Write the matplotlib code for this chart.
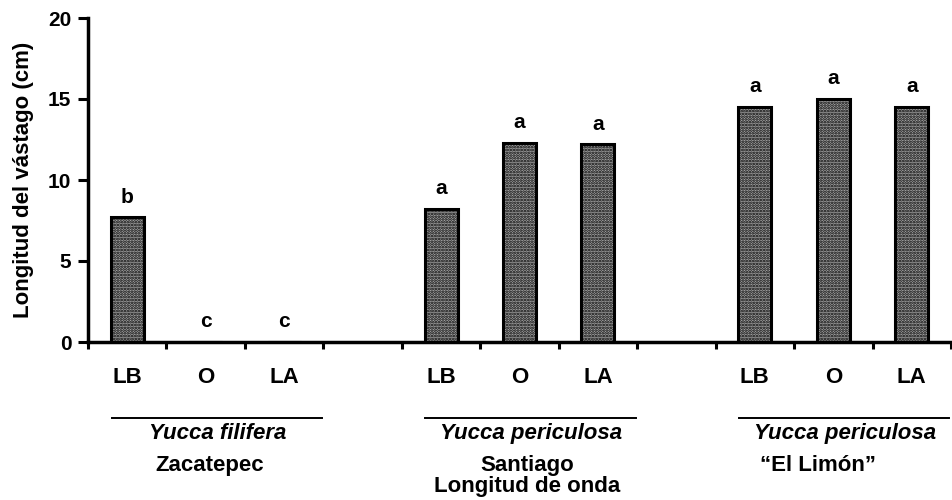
import numpy as np
import matplotlib
matplotlib.use("Agg")
import matplotlib.pyplot as plt
import matplotlib.transforms as mtransforms

# datos
treatments = ["LB", "O", "LA"]
zacatepec = [7.7, 0.0, 0.0]
santiago = [8.2, 12.3, 12.2]
el_limon = [14.5, 15.0, 14.5]
letters_zacatepec = ["b", "c", "c"]
letters_santiago = ["a", "a", "a"]
letters_el_limon = ["a", "a", "a"]
species = ["Yucca filifera", "Yucca periculosa", "Yucca periculosa"]
sites = ["Zacatepec", "Santiago\nLongitud de onda", "\u201cEl Lim\u00f3n\u201d"]
y_ticks = [0, 5, 10, 15, 20]
y_label = "Longitud del vástago (cm)"

plt.rcParams['font.family'] = ['Liberation Sans', 'DejaVu Sans']
plt.rcParams['font.weight'] = 'bold'
plt.rcParams['hatch.color'] = '#111111'
plt.rcParams['hatch.linewidth'] = 1.3

fig = plt.figure(figsize=(9.52, 5.0), dpi=100)
ax = fig.add_axes([88 / 952, 1 - 342 / 500, 863 / 952, 324 / 500])

groups = [zacatepec, santiago, el_limon]
group_letters = [letters_zacatepec, letters_santiago, letters_el_limon]
group_start = [0, 4, 8]   # posicion de la primera barra de cada grupo (hueco entre grupos)
site_dx = [0.05, 0.1, -0.2]

trans = mtransforms.blended_transform_factory(ax.transData, ax.transAxes)
for g, (vals, lets) in enumerate(zip(groups, group_letters)):
    xs = np.arange(len(vals)) + group_start[g]
    ax.bar(xs, vals, width=0.42, color='#a6a6a6', edgecolor='black',
           linewidth=2.2, hatch='......', zorder=2)
    for x, v, l in zip(xs, vals, lets):
        ax.text(x, v + 1.25, l, ha='center', va='center', fontsize=15,
                fontweight='bold')
    # nombres de especie y sitio debajo del eje
    c = group_start[g] + 1
    ax.plot([c - 1.2, c + 1.48], [-0.235, -0.235], color='black', lw=1.4,
            transform=trans, clip_on=False)
    ax.text(c + 0.15, -0.283, species[g], ha='center', va='center', fontsize=16,
            fontstyle='italic', fontweight='bold', transform=trans)
    ax.text(c + site_dx[g], -0.35, sites[g], ha='center', va='top', fontsize=16,
            fontweight='bold', transform=trans, linespacing=1.0)

# etiquetas LB / O / LA
n_slots = 11
centers = []
names = []
for g in range(3):
    for i, t in enumerate(treatments):
        centers.append(group_start[g] + i)
        names.append(t)
ax.set_xticks(centers, names, minor=True)
ax.set_xticks(np.arange(n_slots + 1) - 0.5)
ax.set_xticklabels([])
ax.tick_params(axis='x', which='minor', length=0, pad=18, labelsize=16)
ax.tick_params(axis='x', which='major', length=5, width=2.2, direction='out')
ax.set_xlim(-0.5, n_slots - 0.5)

ax.set_ylim(0, 20)
ax.set_yticks(y_ticks)
ax.tick_params(axis='y', length=7, width=2.2, labelsize=15, pad=5)
for lab in ax.get_yticklabels() + ax.get_xticklabels(minor=True):
    lab.set_fontweight('bold')
ax.set_ylabel(y_label, fontsize=16, fontweight='bold', labelpad=10)

ax.spines['top'].set_visible(False)
ax.spines['right'].set_visible(False)
ax.spines['left'].set_linewidth(2.5)
ax.spines['bottom'].set_linewidth(2.5)

fig.savefig("out.png", dpi=100)
